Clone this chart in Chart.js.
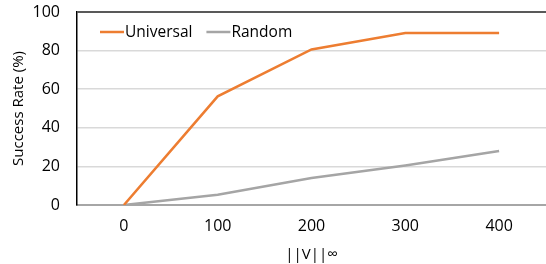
<!DOCTYPE html>
<html><head><meta charset="utf-8">
<script src="https://cdn.jsdelivr.net/npm/chart.js@4/dist/chart.umd.min.js"></script>
<style>html,body{margin:0;padding:0;background:#fff}#wrap{width:546px;height:264px}</style>
</head><body><div id="wrap"><canvas id="c" width="546" height="264"></canvas></div>
<script>
const categories = ['0', '100', '200', '300', '400'];
const universal = [0, 56.3, 80.6, 89.1, 89.1];
const random = [0, 5.3, 14, 20.5, 28];
const yTicks = [0, 20, 40, 60, 80, 100];
const FONT = "'Open Sans', sans-serif";

const legendPlugin = {
  id: 'inlineLegend',
  afterDraw(chart) {
    const ctx = chart.ctx, a = chart.chartArea;
    ctx.save();
    const items = chart.data.datasets;
    let x = a.left + 23; const y = 32;
    ctx.font = '15.5px ' + FONT; ctx.textBaseline = 'middle';
    items.forEach(ds => {
      ctx.strokeStyle = ds.borderColor; ctx.lineWidth = 2.5;
      ctx.beginPath(); ctx.moveTo(x, y); ctx.lineTo(x + 24, y); ctx.stroke();
      ctx.fillStyle = '#000';
      ctx.fillText(ds.label, x + 25, y + 1);
      x += 25 + ctx.measureText(ds.label).width + 14;
    });
    ctx.restore();
    ctx.save();
    ctx.strokeStyle = '#595959'; ctx.lineWidth = 2;
    ctx.beginPath(); ctx.moveTo(a.left, a.top); ctx.lineTo(a.right, a.top); ctx.stroke();
    ctx.restore();
  }
};

new Chart(document.getElementById('c'), {
  type: 'line',
  data: {
    labels: categories,
    datasets: [
      { label: 'Universal', data: universal, borderColor: '#ED7D31', backgroundColor: '#ED7D31', borderWidth: 2.5, pointRadius: 0, tension: 0 },
      { label: 'Random', data: random, borderColor: '#A5A5A5', backgroundColor: '#A5A5A5', borderWidth: 2.5, pointRadius: 0, tension: 0 }
    ]
  },
  options: {
    responsive: false, animation: false, devicePixelRatio: 1,
    layout: { padding: { top: 12, right: 0, left: 0, bottom: 0 } },
    plugins: { legend: { display: false }, tooltip: { enabled: false } },
    scales: {
      x: {
        offset: true,
        grid: { display: false, drawTicks: false },
        border: { color: '#A6A6A6', width: 2 },
        ticks: { color: '#000', font: { family: FONT, size: 16 }, padding: 12 },
        title: { display: true, text: '||V||∞', color: '#000', font: { family: FONT, size: 15 }, padding: { top: 2, bottom: 0 } },
        afterFit: s => { s.height = 59; s.paddingLeft = 0; s.paddingRight = 0; }
      },
      y: {
        min: 0, max: 100,
        afterBuildTicks: s => { s.ticks = yTicks.map(v => ({ value: v })); },
        grid: { color: '#D9D9D9', lineWidth: 1.5, drawTicks: false },
        border: { color: '#000', width: 1.5 },
        ticks: { color: '#000', font: { family: FONT, size: 16 }, padding: 17 },
        title: { display: true, text: 'Success Rate (%)', color: '#000', font: { family: FONT, size: 15 }, padding: { top: 10, bottom: 4 } },
        afterFit: s => { s.width = 77; s.paddingTop = 0; s.paddingBottom = 0; }
      }
    }
  },
  plugins: [legendPlugin]
});
</script></body></html>
